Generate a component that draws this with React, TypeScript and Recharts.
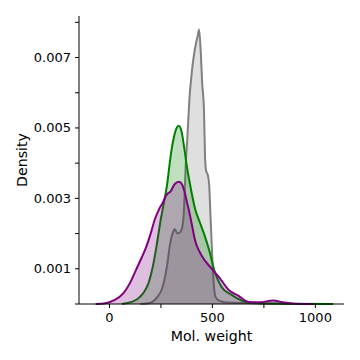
import React from "react";
import {Area, ComposedChart, XAxis, YAxis} from "recharts";

// kde curves: [mol weight, density]
const grayPts: [number, number][] = [
  [150, 0], [196, 0.00003], [230, 0.00018], [258, 0.00048], [280, 0.0011], [292, 0.00162],
  [306, 0.002], [318, 0.00212], [330, 0.002], [345, 0.00205], [354, 0.0022], [360, 0.0025],
  [365, 0.0031], [370, 0.0039], [378, 0.0047], [388, 0.0058], [400, 0.0066], [411, 0.0071],
  [420, 0.0074], [428, 0.0076], [435, 0.0078], [443, 0.0072], [450, 0.0063], [459, 0.0055],
  [464, 0.0042], [469, 0.0038], [478, 0.00365], [484, 0.0034], [490, 0.0026], [498, 0.0015],
  [506, 0.0006], [515, 0.0002], [530, 0.0001], [560, 0.00005], [700, 0.00002], [900, 0],
];
const greenPts: [number, number][] = [
  [60, 0], [81, 0.00002], [130, 0.00012], [163, 0.0003], [190, 0.0006], [210, 0.00105],
  [230, 0.0017], [249, 0.0024], [265, 0.0029], [280, 0.0034], [297, 0.0042], [308, 0.0046],
  [320, 0.0049], [336, 0.00506], [350, 0.0049], [364, 0.0044], [376, 0.0039], [388, 0.0035],
  [416, 0.0027], [440, 0.0023], [459, 0.002], [488, 0.00145], [507, 0.001], [545, 0.00048],
  [593, 0.00026], [641, 0.0001], [700, 0.00003], [850, 0.00001], [1086, 0],
];
const purplePts: [number, number][] = [
  [-67, 0], [-20, 0.00002], [20, 0.0001], [67, 0.0003], [100, 0.0006], [129, 0.00097],
  [155, 0.0013], [177, 0.0016], [200, 0.002], [220, 0.0024], [240, 0.00268], [258, 0.00287],
  [277, 0.0031], [297, 0.0032], [316, 0.0034], [338, 0.00347], [352, 0.0034], [364, 0.0032],
  [376, 0.0029], [388, 0.0026], [402, 0.0022], [416, 0.0018], [432, 0.00155], [450, 0.00135],
  [488, 0.00106], [531, 0.00077], [579, 0.0004], [627, 0.00023], [675, 0.00006], [730, 0.00005],
  [794, 0.0001], [850, 0.00004], [900, 0.00001], [990, 0],
];

const xTicks = [0, 250, 500, 750, 1000];
const xLabels = [0, 500, 1000];
const yTicks = [0, 0.001, 0.002, 0.003, 0.004, 0.005, 0.006, 0.007, 0.008];
const yLabels = [0.001, 0.003, 0.005, 0.007];

const toRows = (pts: [number, number][]) => pts.map(([x, y]) => ({x, y}));

const font = "DejaVu Sans";

const XTick = (props: any) => {
  const {x, y, payload} = props;
  if (!xLabels.includes(payload.value)) return <g/>;
  return (
      <text x={x} y={y + 11} textAnchor="middle" fontSize={13} fontFamily={font} fill="#000">
        {payload.value}
      </text>
  );
};

const YTick = (props: any) => {
  const {x, y, payload} = props;
  if (!yLabels.some(v => Math.abs(v - payload.value) < 1e-9)) return <g/>;
  return (
      <text x={x} y={y + 4.5} textAnchor="end" fontSize={13} fontFamily={font} fill="#000">
        {payload.value.toFixed(3)}
      </text>
  );
};

export default function App() {
  return (
      <ComposedChart width={352} height={352} margin={{top: 8, right: 16, bottom: 16, left: 0}}>
        <XAxis dataKey="x" type="number" domain={[-148, 1139]} ticks={xTicks}
               allowDuplicatedCategory={false} tickSize={4} tickMargin={3}
               stroke="#000" tick={<XTick/>} height={40}
               label={(p: any) => (
                   <text x={p.viewBox.x + p.viewBox.width / 2} y={p.viewBox.y + 37}
                         textAnchor="middle" fontSize={14.2} fontFamily={font} fill="#000">
                     Mol. weight
                   </text>
               )}/>
        <YAxis type="number" domain={[0, 0.00818]} ticks={yTicks} tickSize={4} tickMargin={4}
               stroke="#000" tick={<YTick/>} width={71}
               label={(p: any) => {
                 const cy = p.viewBox.y + p.viewBox.height / 2;
                 return (
                     <text x={14} y={cy} transform={`rotate(-90 14 ${cy})`} textAnchor="middle"
                           dominantBaseline="central" fontSize={14.2} fontFamily={font} fill="#000">
                       Density
                     </text>
                 );
               }}/>
        <Area data={toRows(grayPts)} dataKey="y" type="monotone" stroke="#808080" strokeWidth={2}
              fill="#808080" fillOpacity={0.25} isAnimationActive={false} dot={false} activeDot={false}/>
        <Area data={toRows(greenPts)} dataKey="y" type="monotone" stroke="#008000" strokeWidth={2}
              fill="#008000" fillOpacity={0.25} isAnimationActive={false} dot={false} activeDot={false}/>
        <Area data={toRows(purplePts)} dataKey="y" type="monotone" stroke="#800080" strokeWidth={2}
              fill="#800080" fillOpacity={0.25} isAnimationActive={false} dot={false} activeDot={false}/>
      </ComposedChart>
  );
}
